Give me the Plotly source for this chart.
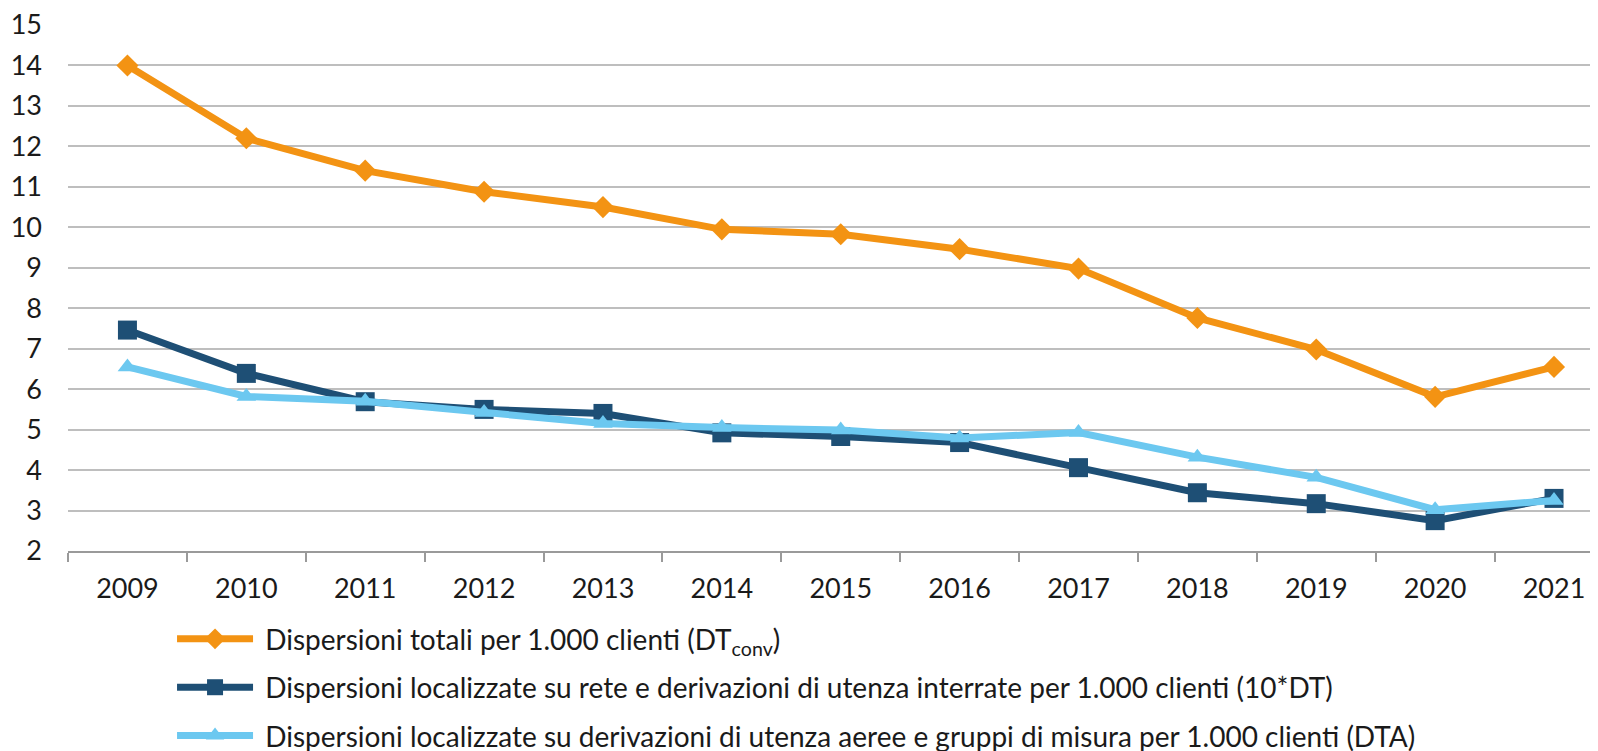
import plotly.graph_objects as go

years = ["2009", "2010", "2011", "2012", "2013", "2014", "2015", "2016", "2017", "2018", "2019", "2020", "2021"]
dt_conv = [14.0, 12.2, 11.4, 10.88, 10.5, 9.95, 9.83, 9.46, 8.98, 7.76, 6.98, 5.81, 6.55]
dt_10 = [7.46, 6.39, 5.69, 5.5, 5.4, 4.92, 4.83, 4.68, 4.06, 3.44, 3.17, 2.75, 3.3]
dta = [6.55, 5.82, 5.7, 5.42, 5.15, 5.05, 4.99, 4.79, 4.93, 4.32, 3.82, 3.02, 3.25]

names = [
    "Dispersioni totali per 1.000 clienti (DT<sub>conv</sub>)",
    "Dispersioni localizzate su rete e derivazioni di utenza interrate per 1.000 clienti (10*DT)",
    "Dispersioni localizzate su derivazioni di utenza aeree e gruppi di misura per 1.000 clienti (DTA)",
]
colors = ["#F39313", "#1E4F75", "#6CC8F0"]
symbols = ["diamond", "square", "triangle-up"]
sizes = [17, 19, 17]

fig = go.Figure()
for i, (vals, nm) in enumerate(zip([dt_conv, dt_10, dta], names)):
    fig.add_trace(go.Scatter(
        x=years, y=vals, name="\u00a0" + nm, mode="lines+markers",
        line=dict(color=colors[i], width=7),
        marker=dict(symbol=symbols[i], size=sizes[i], color=colors[i]),
        legendgroup=str(i),
    ))

fig.update_layout(
    width=1590, height=743,
    margin=dict(l=60, r=0, t=17, b=200, autoexpand=False),
    plot_bgcolor="white", paper_bgcolor="white",
    font=dict(family="Lato, sans-serif", size=27, color="#1a1a1a"),
    showlegend=True,
    legend=dict(
        orientation="v", x=0.068, xanchor="left", y=-0.120, yanchor="top",
        font=dict(size=28), tracegroupgap=9, itemwidth=76,
        bgcolor="rgba(0,0,0,0)",
    ),
)
fig.update_xaxes(
    type="category", range=[-0.5, 12.37],
    showline=True, linecolor="#9a9a9a", linewidth=2,
    ticks="outside", tickson="boundaries", ticklen=9, tickwidth=2, tickcolor="#9a9a9a",
    showgrid=False, tickfont=dict(size=27), ticklabelstandoff=13,
)
fig.update_yaxes(
    range=[2, 15.0001], dtick=1, showgrid=True, gridcolor="#BEBEBE", gridwidth=1.5,
    zeroline=False, showline=False, ticklabelstandoff=25, tickfont=dict(size=27),
    ticklabeloverflow="allow",
)

fig.write_html("out.html")
